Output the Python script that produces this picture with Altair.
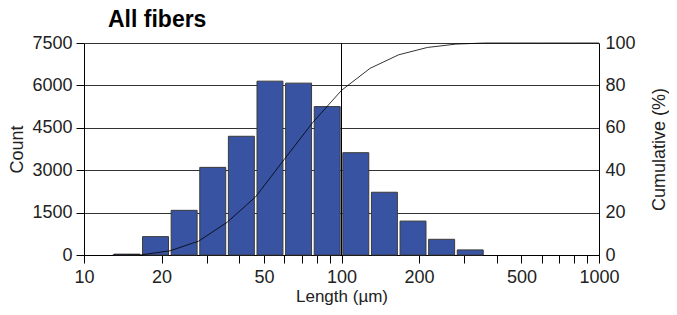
import altair as alt
import pandas as pd

# bin edges (9 bins per decade), lower and upper, in µm
lo_edges = [10.0, 12.915, 16.681, 21.544, 27.826, 35.938, 46.416, 59.948, 77.426,
            100.0, 129.15, 166.81, 215.44, 278.26, 359.38, 464.16, 599.48, 774.26]
hi_edges = [12.915, 16.681, 21.544, 27.826, 35.938, 46.416, 59.948, 77.426, 100.0,
            129.15, 166.81, 215.44, 278.26, 359.38, 464.16, 599.48, 774.26, 1000.0]
counts = [0, 30, 650, 1580, 3100, 4200, 6150, 6080, 5250,
          3620, 2220, 1200, 555, 180, 0, 0, 0, 0]

ref_line = [100]
x_ticks = [10, 20, 30, 40, 50, 60, 70, 80, 90, 100, 200, 300, 400, 500, 600, 700, 800, 900, 1000]
x_labels = [10, 20, 50, 100, 200, 500, 1000]
count_ticks = [0, 1500, 3000, 4500, 6000, 7500]
pct_ticks = [0, 20, 40, 60, 80, 100]

df = pd.DataFrame({"lo": lo_edges, "hi": hi_edges, "count": counts})
ref_df = pd.DataFrame({"v": ref_line})

FONT = "Liberation Sans"
xscale = alt.Scale(type="log", domain=[10, 1000], nice=False)

label_list = ",".join(str(v) for v in x_labels)
xaxis = alt.Axis(
    values=x_ticks,
    labelExpr=f"indexof([{label_list}], datum.value) >= 0 ? datum.label : ''",
    format="d",
    title="Length (µm)",
    grid=False,
    tickSize=8,
    labelPadding=5,
    labelFlush=False,
    titlePadding=2,
    titleFontSize=17,
    domainColor="black",
    tickColor="black",
)

bars = (
    alt.Chart(df)
    .transform_filter("datum.count > 0")
    .transform_calculate(x0="datum.lo * 1.012", x1="datum.hi / 1.012")
    .mark_bar(color="#3953A3", stroke="#3a3a3a", strokeWidth=1)
    .encode(
        x=alt.X("x0:Q", scale=xscale, axis=xaxis),
        x2="x1:Q",
        y=alt.Y(
            "count:Q",
            scale=alt.Scale(domain=[0, 7500], nice=False),
            axis=alt.Axis(
                values=count_ticks,
                format="d",
                title="Count",
                orient="left",
                grid=True,
                gridColor="#333333",
                gridWidth=1,
                gridOpacity=1,
                tickSize=8,
                labelPadding=4,
                titlePadding=5,
                domainColor="black",
                tickColor="black",
            ),
        ),
        y2=alt.datum(0),
    )
)

rule = (
    alt.Chart(ref_df)
    .mark_rule(color="black", strokeWidth=1)
    .encode(x=alt.X("v:Q", scale=xscale))
)

line = (
    alt.Chart(df)
    .transform_window(cum="sum(count)", sort=[{"field": "lo"}])
    .transform_joinaggregate(total="sum(count)")
    .transform_calculate(pct="datum.cum / datum.total * 100")
    .mark_line(color="black", strokeWidth=0.8)
    .encode(
        x=alt.X("hi:Q", scale=xscale),
        y=alt.Y(
            "pct:Q",
            scale=alt.Scale(domain=[0, 100], nice=False),
            axis=alt.Axis(
                values=pct_ticks,
                format="d",
                title="Cumulative (%)",
                orient="right",
                grid=False,
                ticks=False,
                labelPadding=6,
                titleAngle=270,
                titleBaseline="top",
                titlePadding=15,
                domainColor="black",
            ),
        ),
    )
)

chart = (
    alt.layer(bars, rule, line)
    .resolve_scale(y="independent")
    .properties(
        width=515,
        height=212,
        autosize=alt.AutoSizeParams(type="none"),
        padding={"left": 76, "top": 35, "right": 70, "bottom": 52},
        title=alt.TitleParams(
            "All fibers",
            anchor="start",
            frame="group",
            dx=24,
            fontSize=23,
            fontWeight="bold",
            font=FONT,
            color="black",
            offset=2,
        ),
    )
    .configure_view(stroke=None)
    .configure_axis(
        labelFont=FONT,
        titleFont=FONT,
        labelFontSize=18,
        titleFontSize=18,
        titleFontWeight="normal",
        labelColor="#222222",
        titleColor="#222222",
    )
)

chart.save("out.html", embed_options={"renderer": "svg", "actions": False})
